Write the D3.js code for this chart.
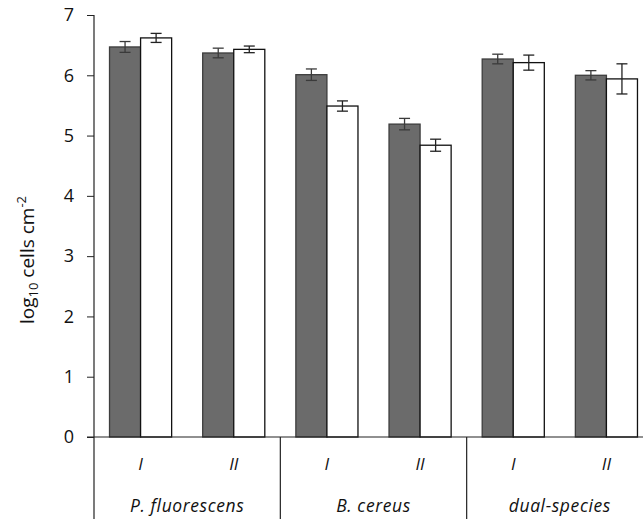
<!DOCTYPE html>
<html>
<head>
<meta charset="utf-8">
<script src="https://cdn.jsdelivr.net/npm/d3@7"></script>
<style>
  body { margin: 0; background: #fff; }
  svg { display: block; }
  text { font-family: "Open Sans", "Liberation Sans", sans-serif; fill: #111; }
</style>
</head>
<body>
<div id="chart"></div>
<script>
// chart size and plot edges
const width = 643;
const height = 519;
const margin = {left: 94, top: 15, bottom: 82};
const plotRight = 653; // last group runs past the edge of the picture

// data
const groups = ["P. fluorescens", "B. cereus", "dual-species"];
const subs = ["I", "II"];
const series = ["dark", "white"];
// values by group, then sub, then series
const darkValues = [[6.47, 6.37], [6.01, 5.19], [6.27, 6.00]];
const whiteValues = [[6.62, 6.43], [5.49, 4.84], [6.21, 5.94]];
const darkErrors = [[0.09, 0.08], [0.095, 0.095], [0.08, 0.077]];
const whiteErrors = [[0.075, 0.055], [0.085, 0.10], [0.125, 0.25]];
const yTicks = [0, 1, 2, 3, 4, 5, 6, 7];

// flat rows for drawing
const rows = [];
groups.forEach((g, gi) => {
  subs.forEach((s, si) => {
    rows.push({group: g, sub: s, series: "dark", value: darkValues[gi][si], err: darkErrors[gi][si]});
    rows.push({group: g, sub: s, series: "white", value: whiteValues[gi][si], err: whiteErrors[gi][si]});
  });
});

const svg = d3.select("#chart")
  .append("svg")
  .attr("width", width)
  .attr("height", height);

// scales
const y = d3.scaleLinear()
  .domain([0, 7])
  .range([height - margin.bottom, margin.top]);

const xGroup = d3.scaleBand()
  .domain(groups)
  .range([margin.left, plotRight]);

const xSub = d3.scaleBand()
  .domain(subs)
  .range([0, xGroup.bandwidth()]);

const xSeries = d3.scaleBand()
  .domain(series)
  .range([0, xSub.bandwidth()])
  .paddingInner(0)
  .paddingOuter(0.5);

const barX = d => xGroup(d.group) + xSub(d.sub) + xSeries(d.series);
const y0 = y(0);

// y axis
const yAxis = svg.append("g")
  .attr("transform", `translate(${margin.left},0)`)
  .call(d3.axisLeft(y).tickValues(yTicks).tickSize(7).tickPadding(13).tickFormat(d3.format("d")));
yAxis.select(".domain").remove();
yAxis.selectAll("line").attr("stroke", "#222");
yAxis.selectAll("text").attr("font-size", "18px").attr("fill", "#111");

// bars
svg.selectAll(".bar")
  .data(rows)
  .enter()
  .append("rect")
    .attr("class", "bar")
    .attr("x", barX)
    .attr("y", d => y(d.value))
    .attr("width", xSeries.bandwidth())
    .attr("height", d => y0 - y(d.value))
    .attr("fill", d => d.series === "dark" ? "#6b6b6b" : "#fff")
    .attr("stroke", d => d.series === "dark" ? "#3d3d3d" : "#111")
    .attr("stroke-width", 1.3);

// error bars
const errG = svg.selectAll(".err")
  .data(rows)
  .enter()
  .append("g")
    .attr("class", "err")
    .attr("stroke", d => d.series === "dark" ? "#3a3a3a" : "#222")
    .attr("stroke-width", 1.3);

const cx = d => barX(d) + xSeries.bandwidth() / 2;
errG.append("line")
  .attr("x1", cx).attr("x2", cx)
  .attr("y1", d => y(d.value + d.err))
  .attr("y2", d => y(d.value - d.err));
errG.append("line")
  .attr("x1", d => cx(d) - 5.5).attr("x2", d => cx(d) + 5.5)
  .attr("y1", d => y(d.value + d.err)).attr("y2", d => y(d.value + d.err));
errG.append("line")
  .attr("x1", d => cx(d) - 5.5).attr("x2", d => cx(d) + 5.5)
  .attr("y1", d => y(d.value - d.err)).attr("y2", d => y(d.value - d.err));

// axis lines
svg.append("line")
  .attr("x1", margin.left).attr("x2", margin.left)
  .attr("y1", y(7)).attr("y2", height)
  .attr("stroke", "#222").attr("stroke-width", 1.2);
svg.append("line")
  .attr("x1", margin.left - 7).attr("x2", width)
  .attr("y1", y0).attr("y2", y0)
  .attr("stroke", "#222").attr("stroke-width", 1.2);

// group separators under the axis
svg.selectAll(".sep")
  .data(groups.slice(1))
  .enter()
  .append("line")
    .attr("class", "sep")
    .attr("x1", d => xGroup(d)).attr("x2", d => xGroup(d))
    .attr("y1", y0).attr("y2", height)
    .attr("stroke", "#222").attr("stroke-width", 1.2);

// sub labels I / II
const subRows = [];
groups.forEach(g => subs.forEach(s => subRows.push({group: g, sub: s})));
svg.selectAll(".sublabel")
  .data(subRows)
  .enter()
  .append("text")
    .attr("class", "sublabel")
    .attr("x", d => xGroup(d.group) + xSub(d.sub) + xSub.bandwidth() / 2)
    .attr("y", 470)
    .attr("text-anchor", "middle")
    .attr("font-size", "17px")
    .attr("font-style", "italic")
    .text(d => d.sub);

// group labels
svg.selectAll(".grouplabel")
  .data(groups)
  .enter()
  .append("text")
    .attr("class", "grouplabel")
    .attr("x", d => xGroup(d) + xGroup.bandwidth() / 2)
    .attr("y", 512)
    .attr("text-anchor", "middle")
    .attr("font-size", "17.5px")
    .attr("letter-spacing", "0.6px")
    .attr("font-style", "italic")
    .text(d => d);

// y axis title
const yTitle = svg.append("text")
  .attr("transform", `translate(34,260) rotate(-90)`)
  .attr("text-anchor", "middle")
  .attr("font-size", "19px");
yTitle.append("tspan").text("log");
yTitle.append("tspan").attr("font-size", "13px").attr("dy", 4).text("10");
yTitle.append("tspan").attr("dy", -4).text(" cells cm");
yTitle.append("tspan").attr("font-size", "13px").attr("dy", -8).text("-2");
</script>
</body>
</html>
